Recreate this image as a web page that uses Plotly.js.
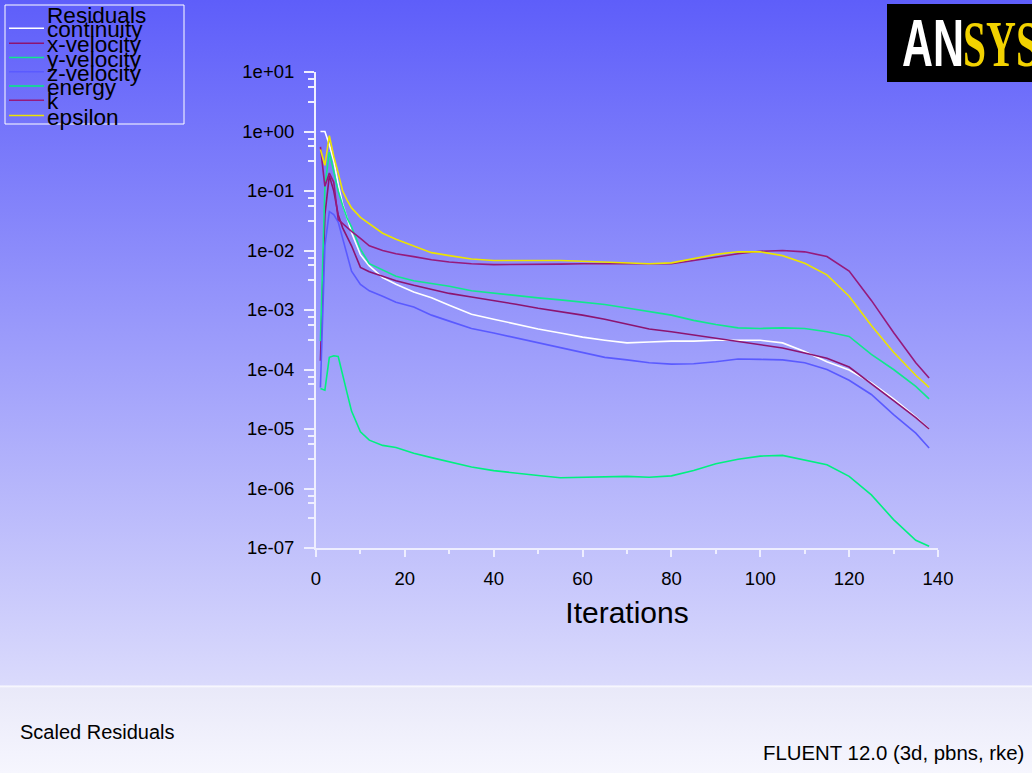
<!DOCTYPE html>
<html>
<head>
<meta charset="utf-8">
<script src="https://cdn.plot.ly/plotly-3.0.1.min.js"></script>
<style>
  html, body { margin: 0; padding: 0; }
  #chart {
    width: 1032px; height: 773px;
    background: linear-gradient(180deg, #5e5efa 0px, #dadafc 685px, #fbfbff 686px, #e9e9f9 688px, #f6f6fe 773px);
  }
</style>
</head>
<body>
<div id="chart"></div>
<script>
// ---- data ----
const iterations = [1,2,3,4,5,6,7,8,10,12,15,18,22,26,30,35,40,45,50,55,60,65,70,75,80,85,90,95,100,105,110,115,120,125,130,135,138];

const continuity = [1.0,1.0,0.6,0.32,0.13,0.06,0.035,0.02,0.0085,0.0055,0.0035,0.0027,0.0020,0.0016,0.0012,0.00085,0.00070,0.00058,0.00048,0.00041,0.00035,0.00031,0.00028,0.00029,0.00030,0.00030,0.00031,0.00031,0.00031,0.00028,0.00020,0.000135,0.000098,0.000060,0.000032,0.000016,0.0000100];

const xVelocity = [1.4e-4,0.04,0.18,0.1,0.04,0.024,0.017,0.012,0.0052,0.0044,0.0037,0.0031,0.0026,0.0022,0.0019,0.00165,0.00145,0.00125,0.00107,0.00095,0.00082,0.00070,0.00058,0.00048,0.00043,0.00038,0.00033,0.00029,0.00026,0.00023,0.00019,0.000155,0.00011,0.000058,0.000030,0.0000155,0.0000100];

const yVelocity = [3e-4,0.12,0.45,0.2,0.1,0.057,0.035,0.025,0.0105,0.0060,0.0047,0.0037,0.0031,0.0028,0.0025,0.0021,0.0019,0.00175,0.0016,0.00148,0.00137,0.00124,0.00108,0.00095,0.00082,0.00067,0.00057,0.0005,0.00049,0.0005,0.00049,0.00043,0.00036,0.00018,0.0001,0.000052,0.000032];

const zVelocity = [5e-5,0.012,0.045,0.04,0.03,0.016,0.0085,0.0045,0.0027,0.0021,0.0017,0.00135,0.00112,0.00082,0.00065,0.00049,0.00041,0.00034,0.00028,0.00023,0.00019,0.00016,0.000145,0.00013,0.000123,0.000125,0.000135,0.00015,0.000148,0.000145,0.00013,0.0001,0.000066,0.000038,0.0000175,0.0000085,0.0000048];

const energy = [4.8e-5,4.5e-5,1.6e-4,1.7e-4,1.65e-4,7.6e-5,4e-5,2e-5,9e-6,6.5e-6,5.3e-6,4.9e-6,3.9e-6,3.3e-6,2.8e-6,2.3e-6,2.0e-6,1.8e-6,1.65e-6,1.52e-6,1.55e-6,1.6e-6,1.6e-6,1.55e-6,1.63e-6,2.0e-6,2.6e-6,3.1e-6,3.5e-6,3.6e-6,3.0e-6,2.5e-6,1.6e-6,7.8e-7,3.0e-7,1.35e-7,1.07e-7];

const kResid = [0.55,0.12,0.2,0.14,0.033,0.028,0.024,0.021,0.016,0.012,0.0100,0.0088,0.0079,0.0070,0.0064,0.0060,0.0058,0.0058,0.0058,0.0059,0.0060,0.0060,0.0060,0.0060,0.0060,0.0068,0.0078,0.0088,0.0097,0.0100,0.0095,0.0079,0.0045,0.00145,0.00042,0.00013,0.000072];

const epsilon = [0.5,0.27,0.85,0.38,0.2,0.1,0.07,0.052,0.036,0.028,0.0195,0.0155,0.0118,0.0092,0.0082,0.0072,0.0068,0.0068,0.0068,0.0068,0.0066,0.0064,0.0062,0.0060,0.0062,0.0072,0.0086,0.0095,0.0095,0.0082,0.0061,0.0039,0.0017,0.00055,0.000195,0.00008,0.00005];

const seriesNames = ['continuity','x-velocity','y-velocity','z-velocity','energy','k','epsilon'];
const seriesValues = [continuity, xVelocity, yVelocity, zVelocity, energy, kResid, epsilon];
const seriesColors = ['#ffffff','#8c1470','#10e88c','#5a5aff','#00f080','#961a7c','#ece400'];
const legendTitle = 'Residuals';

const yTickVals = [1e-7,1e-6,1e-5,1e-4,1e-3,1e-2,1e-1,1e0,1e1];
const yTickText = ['1e-07','1e-06','1e-05','1e-04','1e-03','1e-02','1e-01','1e+00','1e+01'];
const xTickVals = [0,20,40,60,80,100,120,140];

// ---- layout geometry ----
const W = 1032, H = 773;
const M = {l: 316, r: 94, t: 72, b: 225};
const PW = W - M.l - M.r, PH = H - M.t - M.b;
const px = x => (x - M.l) / PW;
const py = y => (M.t + PH - y) / PH;

// minor ticks of the log axis: 1/8, 1/4, 1/2 decade below each decade mark
const yMinor = [];
for (let k = -6; k <= 1; k++) {
  [0.125, 0.25, 0.5].forEach(f => yMinor.push(Math.pow(10, k - f)));
}

const traces = seriesNames.map((n, i) => ({
  type: 'scatter', mode: 'lines', name: n,
  x: iterations, y: seriesValues[i],
  line: {color: seriesColors[i], width: 1.6},
  showlegend: false, hoverinfo: 'skip'
}));

const shapes = [];
const annotations = [];
const font = 'Liberation Sans, Arial, Helvetica, sans-serif';

// legend box
shapes.push({type: 'rect', xref: 'paper', yref: 'paper', x0: px(5), x1: px(184), y0: py(124), y1: py(5),
  line: {color: '#ffffff', width: 1}, fillcolor: 'rgba(0,0,0,0)'});
annotations.push({xref: 'paper', yref: 'paper', x: px(45), y: py(15.5), xanchor: 'left', yanchor: 'middle',
  text: legendTitle, showarrow: false, font: {family: font, size: 22.6, color: '#000'}});
const legLineY = [28.3, 43.3, 57.5, 71.8, 86, 100.3, 115.5];
seriesNames.forEach((n, i) => {
  const ly = legLineY[i];
  shapes.push({type: 'line', xref: 'paper', yref: 'paper', x0: px(9), x1: px(44), y0: py(ly), y1: py(ly),
    line: {color: seriesColors[i], width: 1.6}});
  annotations.push({xref: 'paper', yref: 'paper', x: px(45), y: py(ly + 1.5), xanchor: 'left', yanchor: 'middle',
    text: n, showarrow: false, font: {family: font, size: 22.6, color: '#000'}});
});

// ANSYS logo box
shapes.push({type: 'rect', xref: 'paper', yref: 'paper', x0: px(887), x1: px(1040), y0: py(82), y1: py(4),
  line: {width: 0}, fillcolor: '#000000'});
annotations.push({xref: 'paper', yref: 'paper', x: px(900), y: py(43), xanchor: 'left', yanchor: 'middle',
  text: '<b>AN</b>', showarrow: false,
  font: {family: 'Liberation Sans, Arial, sans-serif', size: 66, color: '#ffffff'}});
annotations.push({xref: 'paper', yref: 'paper', x: px(961), y: py(43), xanchor: 'left', yanchor: 'middle',
  text: '<b>SYS</b>', showarrow: false,
  font: {family: 'Liberation Serif, Times New Roman, serif', size: 66, color: '#f2d200'}});

// footer texts
annotations.push({xref: 'paper', yref: 'paper', x: px(18), y: py(732), xanchor: 'left', yanchor: 'middle',
  text: 'Scaled Residuals', showarrow: false, font: {family: font, size: 20, color: '#000'}});
annotations.push({xref: 'paper', yref: 'paper', x: px(1026), y: py(753), xanchor: 'right', yanchor: 'middle',
  text: 'FLUENT 12.0 (3d, pbns, rke)', showarrow: false, font: {family: font, size: 20.4, color: '#000'}});

const axisColor = '#eeeeff';
const layout = {
  width: W, height: H,
  margin: M,
  paper_bgcolor: 'rgba(0,0,0,0)', plot_bgcolor: 'rgba(0,0,0,0)',
  font: {family: font, size: 18, color: '#000'},
  xaxis: {
    range: [0, 140], tickmode: 'array', tickvals: xTickVals,
    showgrid: false, zeroline: false, showline: true, linecolor: axisColor, linewidth: 2,
    ticks: 'outside', ticklen: 7, tickwidth: 2, tickcolor: axisColor,
    minor: {dtick: 10, ticks: 'outside', ticklen: 4, tickwidth: 2, tickcolor: axisColor, showgrid: false},
    tickfont: {size: 18.5, color: '#000'}, ticklabelstandoff: 6,
    title: {text: 'Iterations', font: {size: 30, color: '#000'}, standoff: 14}
  },
  yaxis: {
    type: 'log', range: [-7, 1], tickmode: 'array', tickvals: yTickVals, ticktext: yTickText,
    showgrid: false, zeroline: false, showline: true, linecolor: axisColor, linewidth: 2,
    ticks: 'outside', ticklen: 10, tickwidth: 2, tickcolor: axisColor,
    minor: {tickmode: 'array', tickvals: yMinor, ticks: 'outside', ticklen: 6, tickwidth: 2, tickcolor: axisColor, showgrid: false},
    tickfont: {size: 18.5, color: '#000'}, ticklabelstandoff: 6
  },
  showlegend: false,
  shapes: shapes,
  annotations: annotations
};

// horizontally condense the logo letters (target widths)
function condenseLogo() {
  const targets = {'AN': 62, 'SYS': 76};
  document.querySelectorAll('#chart g.annotation text').forEach(t => {
    const key = t.textContent;
    if (!(key in targets)) return;
    t.removeAttribute('transform');
    const bb = t.getBBox();
    const s = targets[key] / bb.width;
    t.setAttribute('transform', `translate(${bb.x},0) scale(${s},1) translate(${-bb.x},0)`);
  });
}

Plotly.newPlot('chart', traces, layout, {displayModeBar: false, staticPlot: true}).then(condenseLogo);
</script>
</body>
</html>
